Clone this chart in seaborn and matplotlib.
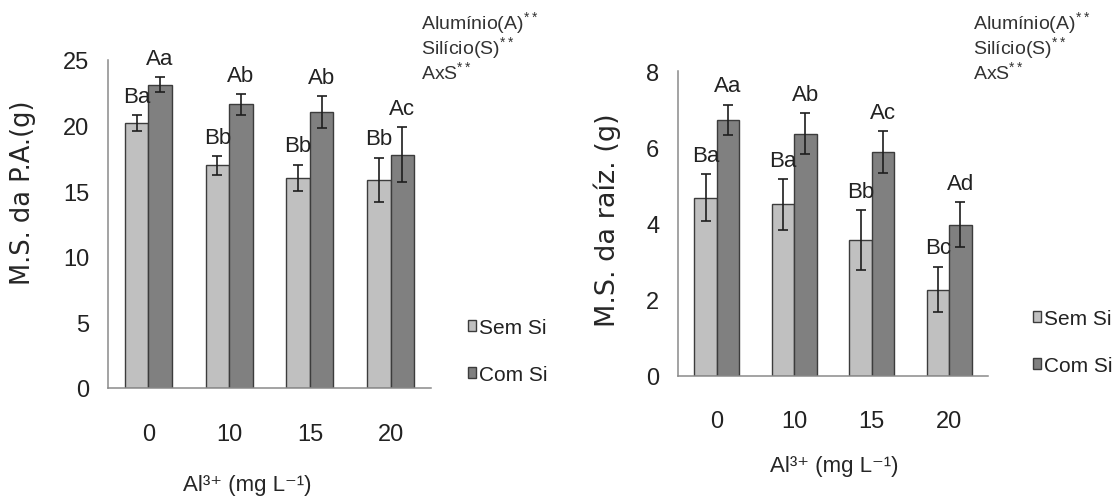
import matplotlib
matplotlib.use("Agg")
import pandas as pd
import matplotlib.pyplot as plt
import seaborn as sns

# doses de aluminio e tratamentos
doses = ["0", "10", "15", "20"]
tratamentos = ["Sem Si", "Com Si"]

# massa seca da parte aerea (g)
pa_sem = [20.2, 16.95, 16.0, 15.85]
pa_com = [23.1, 21.6, 21.0, 17.75]
pa_sem_err = [0.6, 0.7, 1.0, 1.7]
pa_com_err = [0.55, 0.8, 1.2, 2.1]
pa_sem_lab = ["Ba", "Bb", "Bb", "Bb"]
pa_com_lab = ["Aa", "Ab", "Ab", "Ac"]

# massa seca da raiz (g)
raiz_sem = [4.67, 4.5, 3.56, 2.26]
raiz_com = [6.72, 6.36, 5.88, 3.96]
raiz_sem_err = [0.62, 0.67, 0.78, 0.6]
raiz_com_err = [0.4, 0.54, 0.55, 0.59]
raiz_sem_lab = ["Ba", "Ba", "Bb", "Bc"]
raiz_com_lab = ["Aa", "Ab", "Ac", "Ad"]

signif = ["Alumínio(A)", "Silício(S)", "AxS"]

sns.set_style("white")
plt.rcParams["font.family"] = ["Liberation Sans", "DejaVu Sans"]
plt.rcParams["mathtext.fontset"] = "custom"
plt.rcParams["mathtext.rm"] = "Liberation Sans"
plt.rcParams["mathtext.default"] = "rm"
plt.rcParams["text.color"] = "#222222"
plt.rcParams["xtick.color"] = "#8a8a8a"
plt.rcParams["ytick.color"] = "#8a8a8a"
plt.rcParams["xtick.labelcolor"] = "#222222"
plt.rcParams["ytick.labelcolor"] = "#222222"

light = "#c0c0c0"
dark = "#808080"
edge = "#3c3c3c"
axis_col = "#8a8a8a"
W, H = 1112, 502


def painel(ax, sem, com, sem_err, com_err, sem_lab, com_lab, ymax, yticks,
           ylabel, ylab_pos, ylab_size, xlab_pos, xpad):
    df = pd.DataFrame({
        "dose": doses * 2,
        "trat": [tratamentos[0]] * 4 + [tratamentos[1]] * 4,
        "valor": sem + com,
    })
    sns.barplot(data=df, x="dose", y="valor", hue="trat", order=doses,
                hue_order=tratamentos, palette=[light, dark], width=0.58,
                edgecolor=edge, linewidth=1.0, errorbar=None, saturation=1,
                legend=False, ax=ax)

    errs = [sem_err, com_err]
    labs = [sem_lab, com_lab]
    bar_groups = list(ax.containers)
    for k, cont in enumerate(bar_groups):
        for bar, e, lab in zip(cont, errs[k], labs[k]):
            x = bar.get_x() + bar.get_width() / 2
            h = bar.get_height()
            ax.errorbar(x, h, yerr=e, color="#1e1e1e", capsize=3.6,
                        elinewidth=1.2, capthick=1.2)
            ax.annotate(lab, (x, h + e), xytext=(0, 6), textcoords="offset points",
                        ha="center", va="bottom", fontsize=16)

    ax.set_xlim(-0.5, 3.5)
    ax.set_ylim(0, ymax)
    ax.set_yticks(yticks)
    ax.set_xticks(range(len(doses)))
    ax.set_xticklabels(doses)
    ax.set_xticks([-0.5, 0.5, 1.5, 2.5, 3.5], minor=True)
    ax.tick_params(axis="x", which="major", length=0, labelsize=17, pad=xpad)
    ax.tick_params(axis="x", which="minor", length=6, width=1, direction="out")
    ax.tick_params(axis="y", length=4.5, width=1, direction="out",
                   labelsize=17, pad=9)
    for s in ["top", "right"]:
        ax.spines[s].set_visible(False)
    for s in ["left", "bottom"]:
        ax.spines[s].set_color(axis_col)
        ax.spines[s].set_linewidth(1.1)

    ax.set_ylabel(ylabel, fontsize=ylab_size, family="DejaVu Sans")
    ax.yaxis.label.set_va("center")
    ax.yaxis.set_label_coords(ylab_pos[0] / W, 1 - ylab_pos[1] / H,
                              transform=ax.figure.transFigure)
    ax.set_xlabel("Al³⁺ (mg L⁻¹)", fontsize=16)
    ax.xaxis.set_label_coords(xlab_pos[0] / W, 1 - xlab_pos[1] / H,
                              transform=ax.figure.transFigure)


fig = plt.figure(figsize=(11.12, 5.02), dpi=100)
ax1 = fig.add_axes([108 / W, 1 - 389 / H, 323 / W, 328.3 / H])
ax2 = fig.add_axes([678 / W, 1 - 376.5 / H, 310 / W, 304.2 / H])

painel(ax1, pa_sem, pa_com, pa_sem_err, pa_com_err, pa_sem_lab, pa_com_lab,
       25, [0, 5, 10, 15, 20, 25], "M.S. da P.A.(g)", (23, 193), 18.5,
       (247, 475), 25)
painel(ax2, raiz_sem, raiz_com, raiz_sem_err, raiz_com_err, raiz_sem_lab, raiz_com_lab,
       8, [0, 2, 4, 6, 8], "M.S. da raíz. (g)", (607, 220), 19.5,
       (834, 456), 25)

for ax, xy in [(ax1, (468, 319)), (ax2, (1033, 310))]:
    handles = [plt.Rectangle((0, 0), 1, 1, facecolor=c, edgecolor=edge, linewidth=1)
               for c in [light, dark]]
    ax.legend(handles, tratamentos, loc="upper left",
              bbox_to_anchor=(xy[0] / W, 1 - xy[1] / H),
              bbox_transform=fig.transFigure, frameon=False, fontsize=15,
              handlelength=0.4, handleheight=0.4, handletextpad=0.15,
              labelspacing=1.35, borderpad=0, borderaxespad=0)

# significancia dos fatores
for x0 in [421, 973]:
    for i, txt in enumerate(signif):
        fig.text(x0 / W, 1 - (29 + 25 * i) / H, txt + "$^{**}$", ha="left",
                 va="baseline", fontsize=14, color="#333333")

fig.savefig("out.png", dpi=100)
